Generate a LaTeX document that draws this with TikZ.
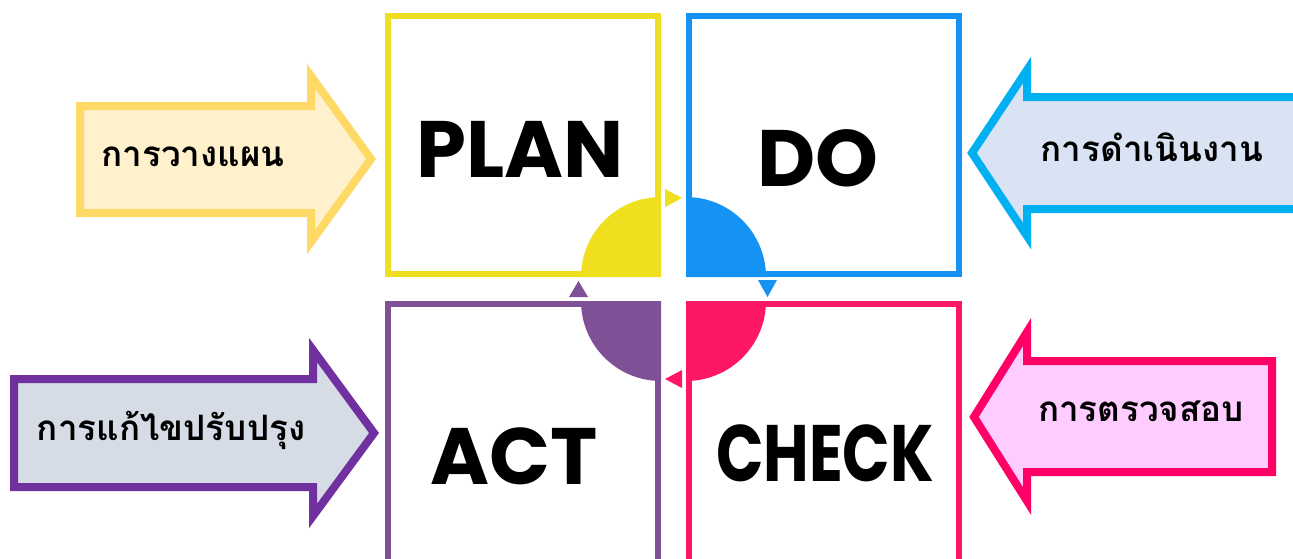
\documentclass[tikz,border=0pt]{standalone}
\usepackage{fontspec}
\newfontfamily\thaifont[Script=Thai]{Loma}
\newfontfamily\pdcafont{Poppins}
\definecolor{planyel}{HTML}{F0DF1E}
\definecolor{doblue}{HTML}{1593F5}
\definecolor{checkpink}{HTML}{FF1767}
\definecolor{actpurple}{HTML}{7F5096}
\definecolor{arryelline}{HTML}{FFD966}
\definecolor{arryelfill}{HTML}{FFF1CC}
\definecolor{arrblueline}{HTML}{00B0F0}
\definecolor{arrbluefill}{HTML}{DAE3F3}
\definecolor{arrpinkline}{HTML}{FF0066}
\definecolor{arrpinkfill}{HTML}{FFCCFF}
\definecolor{arrpurpline}{HTML}{7030A0}
\definecolor{arrpurpfill}{HTML}{D6DCE5}
\begin{document}
\begin{tikzpicture}[x=1pt,y=-1pt]
        \tikzstyle{stage}=[draw,line width=6pt,minimum width=270pt,inner sep=0pt]
        \tikzstyle{word}=[font=\pdcafont\bfseries\fontsize{80}{80}\selectfont]
        \tikzstyle{thai}=[font=\thaifont\bfseries\fontsize{35}{40}\selectfont]
        \tikzstyle{bigarrow}=[line width=8pt,line join=miter]
        \useasboundingbox (0,0) rectangle (1293,558);
       \begin{scope}
         % the four boxes
         \node [stage,draw=planyel,minimum height=258pt] (plan) at (523,145) {};
         \node [stage,draw=doblue,minimum height=258pt] (do) at (824,145) {};
         \node [stage,draw=actpurple,minimum height=300pt] (act) at (523,454) {};
         \node [stage,draw=checkpink,minimum height=300pt] (check) at (824,454) {};
         \node [word] (plantext) at (520,149) {PLAN};
         \node [word] (dotext) at (818,158) {DO};
         \node [word] (acttext) at (514,456) {ACT};
         \node [word] (checktext) at (825,453) {\scalebox{0.78}[1]{CHECK}};
         % quarter discs in the middle (y axis points down)
         \fill [planyel] (661,277) -- (581,277) arc (180:270:80) -- cycle;
         \fill [doblue] (686,277) -- (686,197) arc (270:360:80) -- cycle;
         \fill [checkpink] (686,301) -- (766,301) arc (0:90:80) -- cycle;
         \fill [actpurple] (661,301) -- (661,381) arc (90:180:80) -- cycle;
         % small triangles
         \fill [planyel] (665,189) -- (682,198) -- (665,207) -- cycle;
         \fill [doblue] (758,280) -- (777,280) -- (767.5,297) -- cycle;
         \fill [checkpink] (682,370) -- (682,388) -- (665,379) -- cycle;
         \fill [actpurple] (569,297) -- (588,297) -- (578.5,281) -- cycle;
         % side arrows
         \draw [bigarrow,draw=arryelline,fill=arryelfill]
            (80,106) -- (311,106) -- (311,76) -- (371,159) -- (311,242) -- (311,213) -- (80,213) -- cycle;
         \draw [bigarrow,draw=arrblueline,fill=arrbluefill]
            (1300,97) -- (1027,97) -- (1027,70) -- (972,153) -- (1027,236) -- (1027,209) -- (1300,209);
         \draw [bigarrow,draw=arrpinkline,fill=arrpinkfill]
            (1272,361) -- (1027,361) -- (1027,332) -- (974,417) -- (1027,501) -- (1027,472) -- (1272,472) -- cycle;
         \draw [bigarrow,draw=arrpurpline,fill=arrpurpfill]
            (14,379) -- (313,379) -- (313,350) -- (374,433) -- (313,516) -- (313,487) -- (14,487) -- cycle;
         \node [thai] (plan th) at (193,157) {การวางแผน};
         \node [thai] (do th) at (1152,147) {การดำเนินงาน};
         \node [thai] (check th) at (1141,411) {การตรวจสอบ};
         \node [thai] (act th) at (171,430) {การแก้ไขปรับปรุง};
        \end{scope}
      \end{tikzpicture}
\end{document}
